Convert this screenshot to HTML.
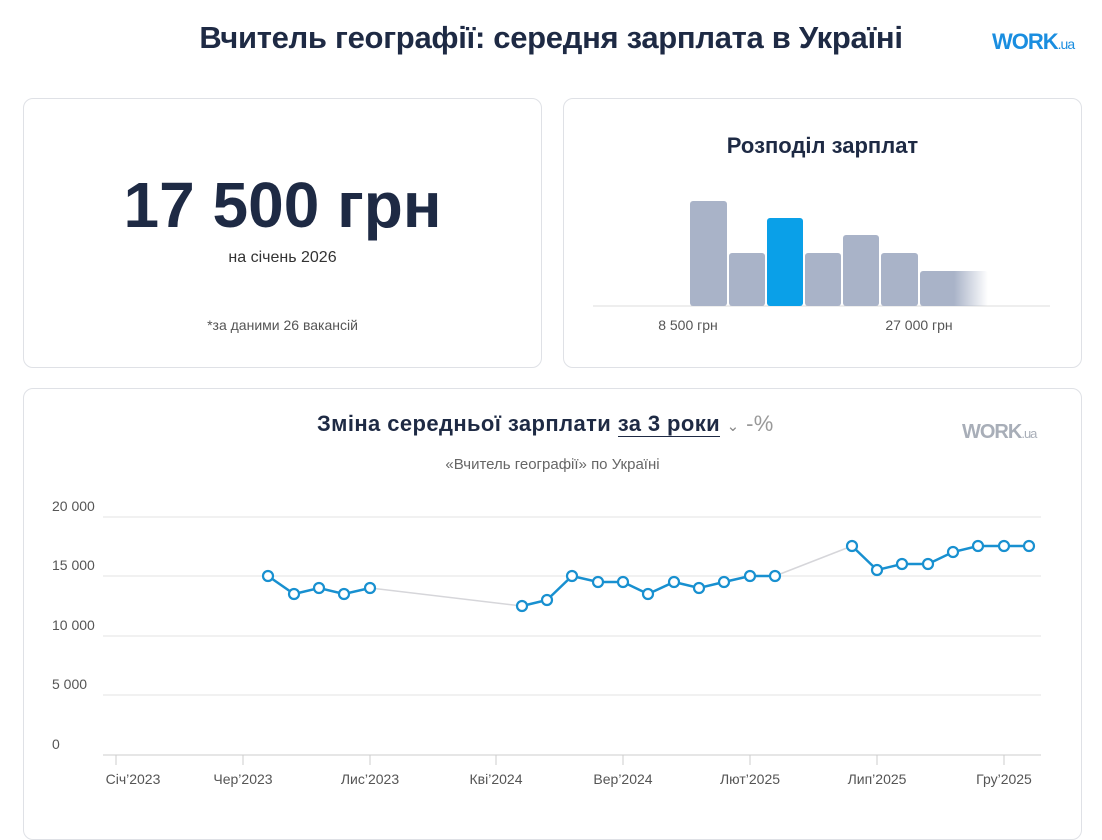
<!DOCTYPE html>
<html><head><meta charset="utf-8"><style>
body{margin:0;width:1102px;height:819px;background:#fff;font-family:"Liberation Sans","DejaVu Sans",sans-serif;position:relative;overflow:hidden;color:#1e2a44}
.card{position:absolute;border:1px solid #dfe1e6;border-radius:10px;background:rgba(255,255,255,0.6)}
.t{position:absolute;white-space:nowrap}
</style></head><body>
<div class="t" style="left:0;width:1102px;text-align:center;top:20px;font-size:31px;font-weight:bold;color:#1e2a44;letter-spacing:-0.3px">Вчитель географії: середня зарплата в Україні</div>
<div class="t" style="left:992px;top:29px;font-size:22px;font-weight:bold;color:#1a8ee0;letter-spacing:-1px">WORK<span style="font-size:14px;font-weight:normal">.ua</span></div>

<div class="card" style="left:23px;top:98px;width:517px;height:268px"></div>
<div class="t" style="left:23px;width:519px;text-align:center;top:168px;font-size:64px;font-weight:bold;color:#1e2a44">17 500 грн</div>
<div class="t" style="left:23px;width:519px;text-align:center;top:249px;font-size:16px;color:#333">на січень 2026</div>
<div class="t" style="left:23px;width:519px;text-align:center;top:317px;font-size:14px;color:#555">*за даними 26 вакансій</div>

<div class="card" style="left:563px;top:98px;width:517px;height:268px"></div>
<div class="t" style="left:563px;width:519px;text-align:center;top:133px;font-size:22px;font-weight:bold;color:#1e2a44">Розподіл зарплат</div>
<svg style="position:absolute;left:0;top:0" width="1102" height="819">
<defs><linearGradient id="f" x1="0" x2="1"><stop offset="0.5" stop-color="#a9b3c8"/><stop offset="1" stop-color="#a9b3c8" stop-opacity="0"/></linearGradient></defs>
<line x1="593" y1="306" x2="1050" y2="306" stroke="#dcdcdc"/>
<rect x="690" y="201" width="37" height="105" rx="3" fill="#a9b3c8"/>
<rect x="729" y="253" width="36" height="53" rx="3" fill="#a9b3c8"/>
<rect x="767" y="218" width="36" height="88" rx="3" fill="#0aa0e8"/>
<rect x="805" y="253" width="36" height="53" rx="3" fill="#a9b3c8"/>
<rect x="843" y="235" width="36" height="71" rx="3" fill="#a9b3c8"/>
<rect x="881" y="253" width="37" height="53" rx="3" fill="#a9b3c8"/>
<rect x="920" y="271" width="68" height="35" rx="3" fill="url(#f)"/>
</svg>
<div class="t" style="left:638px;width:100px;text-align:center;top:317px;font-size:14px;color:#555">8 500 грн</div>
<div class="t" style="left:869px;width:100px;text-align:center;top:317px;font-size:14px;color:#555">27 000 грн</div>

<div class="card" style="left:23px;top:388px;width:1057px;height:450px"></div>
<div class="t" style="left:317px;top:411px;font-size:22px;font-weight:bold;color:#1e2a44;letter-spacing:0.4px">Зміна середньої зарплати <span style="border-bottom:1.5px solid #1e2a44">за 3 роки</span> <span style="font-weight:normal;font-size:15px;color:#888">&#8964;</span> <span style="font-weight:normal;color:#999">-%</span></div>
<div class="t" style="left:962px;top:421px;font-size:20px;font-weight:bold;color:#a8aeb8;letter-spacing:-1px">WORK<span style="font-size:13px;font-weight:normal">.ua</span></div>
<div class="t" style="left:23px;width:1059px;text-align:center;top:456px;font-size:15px;color:#666">«Вчитель географії» по Україні</div>

<div class="t" style="left:52px;top:498px;font-size:14px;color:#555">20 000</div>
<div class="t" style="left:52px;top:557px;font-size:14px;color:#555">15 000</div>
<div class="t" style="left:52px;top:617px;font-size:14px;color:#555">10 000</div>
<div class="t" style="left:52px;top:676px;font-size:14px;color:#555">5 000</div>
<div class="t" style="left:52px;top:736px;font-size:14px;color:#555">0</div>
<svg style="position:absolute;left:0;top:0" width="1102" height="819">
<g stroke="#e3e3e3"><line x1="103" y1="517" x2="1041" y2="517"/><line x1="103" y1="576" x2="1041" y2="576"/><line x1="103" y1="636" x2="1041" y2="636"/><line x1="103" y1="695" x2="1041" y2="695"/></g>
<line x1="103" y1="755" x2="1041" y2="755" stroke="#ccc"/>
<g stroke="#ccc"><line x1="116" y1="755" x2="116" y2="765"/><line x1="243" y1="755" x2="243" y2="765"/><line x1="370" y1="755" x2="370" y2="765"/><line x1="496" y1="755" x2="496" y2="765"/><line x1="623" y1="755" x2="623" y2="765"/><line x1="750" y1="755" x2="750" y2="765"/><line x1="877" y1="755" x2="877" y2="765"/><line x1="1004" y1="755" x2="1004" y2="765"/></g>
<g stroke="#d6d6da" stroke-width="1.5"><line x1="370" y1="588" x2="522" y2="606"/><line x1="775" y1="576" x2="852" y2="546"/></g>
<g fill="none" stroke="#1890d0" stroke-width="2.5">
<polyline points="268,576 294,594 319,588 344,594 370,588"/>
<polyline points="522,606 547,600 572,576 598,582 623,582 648,594 674,582 699,588 724,582 750,576 775,576"/>
<polyline points="852,546 877,570 902,564 928,564 953,552 978,546 1004,546 1029,546"/>
</g>
<g fill="#fff" stroke="#1890d0" stroke-width="2.2">
<circle cx="268" cy="576" r="5"/><circle cx="294" cy="594" r="5"/><circle cx="319" cy="588" r="5"/><circle cx="344" cy="594" r="5"/><circle cx="370" cy="588" r="5"/>
<circle cx="522" cy="606" r="5"/><circle cx="547" cy="600" r="5"/><circle cx="572" cy="576" r="5"/><circle cx="598" cy="582" r="5"/><circle cx="623" cy="582" r="5"/><circle cx="648" cy="594" r="5"/><circle cx="674" cy="582" r="5"/><circle cx="699" cy="588" r="5"/><circle cx="724" cy="582" r="5"/><circle cx="750" cy="576" r="5"/><circle cx="775" cy="576" r="5"/>
<circle cx="852" cy="546" r="5"/><circle cx="877" cy="570" r="5"/><circle cx="902" cy="564" r="5"/><circle cx="928" cy="564" r="5"/><circle cx="953" cy="552" r="5"/><circle cx="978" cy="546" r="5"/><circle cx="1004" cy="546" r="5"/><circle cx="1029" cy="546" r="5"/>
</g>
</svg>
<div class="t" style="left:66px;width:134px;text-align:center;top:771px;font-size:14px;color:#555">Січ’2023</div>
<div class="t" style="left:176px;width:134px;text-align:center;top:771px;font-size:14px;color:#555">Чер’2023</div>
<div class="t" style="left:303px;width:134px;text-align:center;top:771px;font-size:14px;color:#555">Лис’2023</div>
<div class="t" style="left:429px;width:134px;text-align:center;top:771px;font-size:14px;color:#555">Кві’2024</div>
<div class="t" style="left:556px;width:134px;text-align:center;top:771px;font-size:14px;color:#555">Вер’2024</div>
<div class="t" style="left:683px;width:134px;text-align:center;top:771px;font-size:14px;color:#555">Лют’2025</div>
<div class="t" style="left:810px;width:134px;text-align:center;top:771px;font-size:14px;color:#555">Лип’2025</div>
<div class="t" style="left:937px;width:134px;text-align:center;top:771px;font-size:14px;color:#555">Гру’2025</div>
</body></html>
